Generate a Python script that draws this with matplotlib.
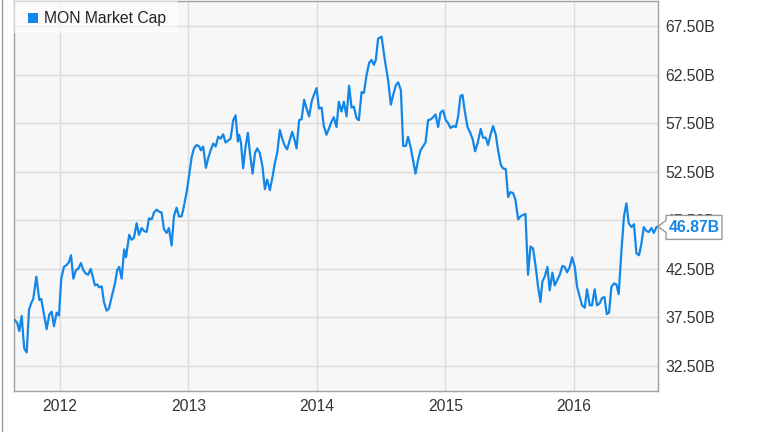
import matplotlib
matplotlib.use("Agg")
import matplotlib.pyplot as plt
from matplotlib.patches import Polygon, Rectangle
from matplotlib.lines import Line2D

plt.rcParams['font.family'] = ['Liberation Sans', 'DejaVu Sans']

series_name = "MON Market Cap"

# decimal years
dates = [
    2011.650, 2011.668, 2011.683, 2011.702, 2011.714, 2011.722, 2011.741, 2011.759, 2011.780, 2011.792,
    2011.816, 2011.839, 2011.854, 2011.896, 2011.917, 2011.935, 2011.953, 2011.974, 2011.992,
    2012.010, 2012.031, 2012.052, 2012.070, 2012.086, 2012.104, 2012.125, 2012.142, 2012.163, 2012.181,
    2012.202, 2012.220, 2012.239, 2012.259, 2012.272, 2012.290, 2012.304, 2012.325, 2012.342, 2012.363,
    2012.381, 2012.402, 2012.428, 2012.446, 2012.461, 2012.480, 2012.500, 2012.514, 2012.539, 2012.558,
    2012.576, 2012.597, 2012.615, 2012.636, 2012.654, 2012.675, 2012.693, 2012.714, 2012.732, 2012.753,
    2012.770, 2012.791, 2012.809, 2012.830, 2012.848, 2012.869, 2012.887, 2012.908, 2012.926, 2012.947,
    2012.965, 2012.986,
    2013.004, 2013.025, 2013.043, 2013.064, 2013.084, 2013.097, 2013.115, 2013.136, 2013.154, 2013.173,
    2013.193, 2013.212, 2013.232, 2013.251, 2013.271, 2013.289, 2013.309, 2013.328, 2013.349, 2013.367,
    2013.385, 2013.395, 2013.409, 2013.426, 2013.445, 2013.463, 2013.479, 2013.500, 2013.518, 2013.535,
    2013.556, 2013.577, 2013.595, 2013.613, 2013.634, 2013.655, 2013.673, 2013.691, 2013.712, 2013.730,
    2013.751, 2013.769, 2013.790, 2013.808, 2013.826, 2013.842, 2013.862, 2013.881, 2013.901, 2013.920,
    2013.940, 2013.959, 2013.977, 2013.998,
    2014.016, 2014.037, 2014.054, 2014.075, 2014.096, 2014.114, 2014.132, 2014.153, 2014.171, 2014.192,
    2014.210, 2014.231, 2014.251, 2014.270, 2014.288, 2014.309, 2014.327, 2014.348, 2014.366, 2014.387,
    2014.407, 2014.426, 2014.444, 2014.459, 2014.477, 2014.504, 2014.529, 2014.555, 2014.576, 2014.594,
    2014.615, 2014.633, 2014.654, 2014.672, 2014.693, 2014.710, 2014.732, 2014.749, 2014.768, 2014.788,
    2014.807, 2014.827, 2014.846, 2014.866, 2014.887, 2014.905, 2014.924, 2014.944, 2014.963, 2014.983,
    2015.004, 2015.022, 2015.040, 2015.061, 2015.082, 2015.100, 2015.118, 2015.134, 2015.152, 2015.173,
    2015.191, 2015.212, 2015.232, 2015.251, 2015.276, 2015.294, 2015.315, 2015.333, 2015.352, 2015.372,
    2015.393, 2015.411, 2015.432, 2015.450, 2015.471, 2015.489, 2015.507, 2015.528, 2015.546, 2015.567,
    2015.585, 2015.605, 2015.624, 2015.644, 2015.663, 2015.683, 2015.702, 2015.722, 2015.741, 2015.756,
    2015.774, 2015.795, 2015.813, 2015.834, 2015.852, 2015.870, 2015.891, 2015.912, 2015.930, 2015.948,
    2015.969, 2015.987,
    2016.008, 2016.026, 2016.047, 2016.065, 2016.086, 2016.103, 2016.125, 2016.142, 2016.163, 2016.181,
    2016.202, 2016.220, 2016.239, 2016.257, 2016.275, 2016.293, 2016.314, 2016.332, 2016.350, 2016.371,
    2016.391, 2016.410, 2016.428, 2016.449, 2016.469, 2016.488, 2016.508, 2016.527, 2016.545, 2016.566,
    2016.584, 2016.605, 2016.623, 2016.644, 2016.656,
]

# market cap, billions USD
market_cap = [
    37.2, 36.9, 36.1, 37.65, 35.5, 34.3, 33.9, 38.3, 39.1, 39.4,
    41.7, 39.3, 39.4, 36.3, 37.8, 38.1, 36.6, 38.0, 37.7,
    41.5, 42.7, 42.9, 43.2, 43.9, 41.5, 42.4, 42.5, 43.1, 42.4,
    42.0, 41.9, 42.5, 41.5, 40.8, 40.9, 40.6, 40.7, 39.1, 38.2,
    38.4, 39.6, 41.0, 42.4, 42.7, 41.5, 44.5, 43.7, 46.0, 45.5,
    45.7, 47.2, 46.0, 46.7, 46.4, 46.3, 47.7, 47.6, 48.3, 48.6,
    48.4, 48.3, 46.6, 46.2, 46.7, 44.9, 47.9, 48.8, 47.9, 47.9,
    48.95, 50.4,
    52.0, 54.0, 54.9, 55.25, 55.1, 54.7, 55.1, 52.9, 53.9, 54.7,
    55.4, 55.1, 56.1, 55.9, 56.35, 55.5, 55.7, 55.9, 57.8, 58.3,
    55.6, 56.3, 55.5, 52.85, 55.1, 56.5, 54.4, 52.3, 54.4, 54.9,
    54.4, 53.0, 50.7, 51.7, 50.6, 52.0, 53.4, 54.4, 56.8, 55.9,
    55.15, 54.8, 55.8, 56.6, 55.8, 54.9, 57.8, 57.9, 59.9, 59.0,
    58.2, 59.7, 60.4, 61.1,
    59.0, 59.1, 57.2, 56.3, 57.0, 57.65, 58.1, 57.1, 59.7, 58.7,
    59.7, 58.2, 61.35, 59.1, 59.2, 58.0, 57.8, 60.7, 60.6, 62.45,
    63.7, 64.0, 63.5, 64.0, 66.2, 66.4, 64.0, 61.9, 59.4, 60.4,
    61.4, 61.7, 60.9, 55.15, 55.15, 56.1, 54.9, 53.7, 52.3, 53.7,
    54.7, 55.1, 55.5, 57.8, 57.9, 58.1, 58.4, 57.1, 58.6, 58.8,
    57.8, 57.5, 57.0, 57.2, 57.1, 58.2, 60.3, 60.4, 58.7, 57.1,
    56.6, 55.9, 54.6, 55.4, 56.9, 56.0, 56.0, 55.25, 56.3, 57.2,
    56.3, 54.7, 53.2, 52.85, 52.75, 49.9, 50.4, 50.3, 49.6, 47.6,
    47.9, 48.05, 48.15, 41.9, 44.8, 44.6, 42.9, 40.7, 39.1, 41.2,
    41.7, 42.7, 40.3, 42.1, 40.8, 41.3, 41.9, 42.8, 42.7, 42.15,
    42.7, 43.7,
    42.7, 40.65, 39.6, 38.75, 38.5, 40.4, 38.75, 38.75, 40.4, 38.75,
    38.95, 39.5, 39.6, 37.85, 38.0, 40.65, 41.0, 40.9, 39.9, 44.3,
    47.9, 49.25, 47.2, 46.8, 47.1, 44.1, 43.9, 45.1, 46.8, 46.4,
    46.3, 46.7, 46.2, 46.8, 46.87,
]

year_ticks = [2012, 2013, 2014, 2015, 2016]
value_ticks = [32.5, 37.5, 42.5, 47.5, 52.5, 57.5, 62.5, 67.5]
last_label = "46.87B"

LINE = '#1386e8'
W, H = 764, 432
fig = plt.figure(figsize=(W / 100, H / 100), dpi=100)
fig.patch.set_facecolor('white')

left, right, bottom, top = 14, 658, 391, 1
ax = fig.add_axes([left / W, 1 - bottom / H, (right - left) / W, (bottom - top) / H])
ax.set_facecolor('#f7f7f7')

ax.plot(dates, market_cap, color=LINE, lw=1.6, solid_joinstyle='round', zorder=3)

ax.set_xlim(2011.642, 2016.656)
ax.set_ylim(29.93, 70.07)
ax.set_xticks(year_ticks)
ax.set_xticklabels([str(y) for y in year_ticks])
ax.set_yticks(value_ticks)
ax.set_yticklabels([f"{v:.2f}B" for v in value_ticks])
ax.yaxis.tick_right()
ax.tick_params(axis='both', length=0, labelsize=11.3, colors='#333333')
ax.tick_params(axis='y', pad=5.5)
ax.tick_params(axis='x', pad=6)
ax.grid(True, color='#dcdcdc', lw=1.0)
ax.set_axisbelow(True)
for s in ax.spines.values():
    s.set_color('#a0a0a0')
    s.set_linewidth(1.0)

# legend box (pixel coordinates)
def px(x, y):
    return (x / W, 1 - y / H)

lx0, ly0 = px(14, 33)
fig.add_artist(Rectangle((lx0, ly0), (178 - 14) / W, 32 / H, transform=fig.transFigure,
                         facecolor='white', alpha=0.55, edgecolor='none', zorder=5))
mx0, my0 = px(28, 23)
fig.add_artist(Rectangle((mx0, my0), 10 / W, 10 / H, transform=fig.transFigure,
                         facecolor=LINE, edgecolor='none', zorder=6))
tx, ty = px(44, 18)
fig.text(tx, ty, series_name, fontsize=11.3, color='#222222', va='center', ha='left', zorder=6)

# callout for last value
fig.canvas.draw()
xd, yd = ax.transData.transform((dates[-1], market_cap[-1]))
tip_x = xd
box_l, box_r = xd + 8, xd + 64
box_t, box_b = yd + 11, yd - 13
poly = [(tip_x, yd), (box_l, yd + 6), (box_l, box_t), (box_r, box_t), (box_r, box_b),
        (box_l, box_b), (box_l, yd - 6)]
fig.add_artist(Polygon([(x / W, y / H) for x, y in poly], closed=True, transform=fig.transFigure,
                       facecolor='white', edgecolor='#9a9a9a', lw=1.0, zorder=10))
fig.text((box_l + box_r) / 2 / W, (box_t + box_b) / 2 / H, last_label, fontsize=11.3,
         fontweight='bold', color=LINE, ha='center', va='center', zorder=11)

# left border line
fig.add_artist(Line2D([1.5 / W, 1.5 / W], [0, 1], transform=fig.transFigure, color='#9a9a9a', lw=1.0))

fig.savefig('out.png', dpi=100)
